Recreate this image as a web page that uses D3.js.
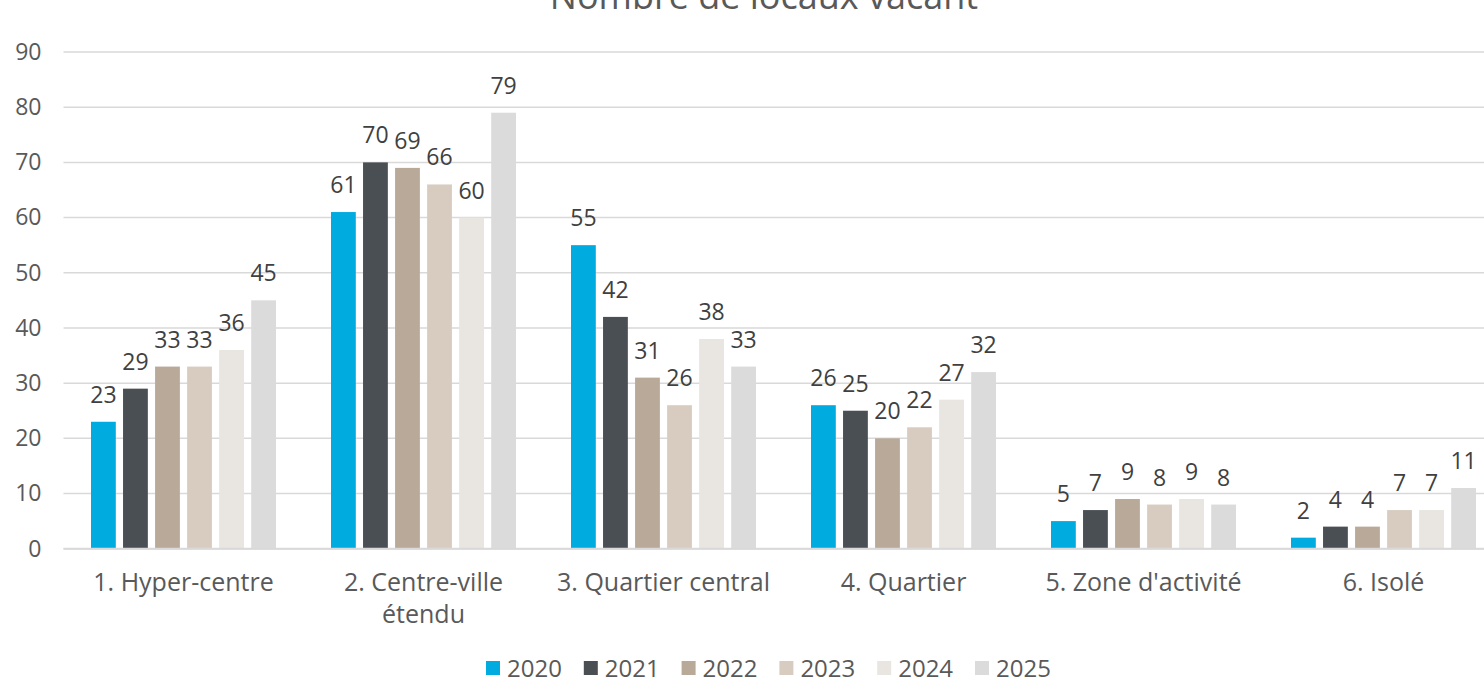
<!DOCTYPE html>
<html>
<head>
<meta charset="utf-8">
<script src="https://cdn.jsdelivr.net/npm/d3@7"></script>
<style>
body{margin:0;background:#fff;}
text{font-family:"Open Sans",sans-serif;}
</style>
</head>
<body>
<div class="chart"></div>
<script>
// donnees
const categories=['1. Hyper-centre','2. Centre-ville étendu','3. Quartier central','4. Quartier',"5. Zone d'activité",'6. Isolé'];
const years=['2020','2021','2022','2023','2024','2025'];
const v2020=[23,61,55,26,5,2];
const v2021=[29,70,42,25,7,4];
const v2022=[33,69,31,20,9,4];
const v2023=[33,66,26,22,8,7];
const v2024=[36,60,38,27,9,7];
const v2025=[45,79,33,32,8,11];
const yTicks=[0,10,20,30,40,50,60,70,80,90];
const colors=['#00abdf','#4a4f54','#b9a999','#d8ccc1','#e9e5e1','#dbdbdb'];

const series=[v2020,v2021,v2022,v2023,v2024,v2025];

const width=1484;
const height=680;
const left=63.5;
const step=240;

const svg=d3.select('.chart')
	.append('svg')
	.attr('width',width)
	.attr('height',height)

const x0=d3.scaleBand()
	.domain(categories)
	.range([left,left+step*categories.length])
	.paddingInner(55/240)
	.paddingOuter(55/480)

const x1=d3.scaleBand()
	.domain(years)
	.range([0,x0.bandwidth()])
	.paddingInner(0.226)

const y=d3.scaleLinear()
	.domain([0,90])
	.range([548.7,52])

// grille
svg.selectAll('.grid')
	.data(yTicks)
	.enter()
	.append('line')
	.attr('x1',left)
	.attr('x2',width)
	.attr('y1',d=>y(d))
	.attr('y2',d=>y(d))
	.attr('stroke','#d9d9d9')
	.attr('stroke-width',1.5)

const yAxis=svg.append('g')
	.attr('transform','translate('+(left-22)+',0)')
	.call(d3.axisLeft(y).tickValues(yTicks).tickSize(0).tickPadding(0))
yAxis.select('.domain').remove()
yAxis.selectAll('text')
	.attr('font-size',23)
	.attr('fill','#595959')
	.attr('font-family','"Open Sans",sans-serif')

// barres
const rows=categories.map((c,i)=>({cat:c,vals:years.map((yr,j)=>({year:yr,value:series[j][i],j:j}))}))

const groups=svg.selectAll('.group')
	.data(rows)
	.enter()
	.append('g')
	.attr('transform',d=>'translate('+x0(d.cat)+',0)')

groups.selectAll('rect')
	.data(d=>d.vals)
	.enter()
	.append('rect')
	.attr('x',d=>x1(d.year))
	.attr('y',d=>y(d.value))
	.attr('width',x1.bandwidth())
	.attr('height',d=>y(0)-y(d.value))
	.attr('fill',d=>colors[d.j])

groups.selectAll('text')
	.data(d=>d.vals)
	.enter()
	.append('text')
	.attr('x',d=>x1(d.year)+x1.bandwidth()/2)
	.attr('y',d=>y(d.value)-19)
	.attr('text-anchor','middle')
	.attr('font-size',23)
	.attr('fill','#404040')
	.text(d=>d.value)

// axe des categories
svg.append('line')
	.attr('x1',left)
	.attr('x2',width)
	.attr('y1',y(0))
	.attr('y2',y(0))
	.attr('stroke','#d9d9d9')
	.attr('stroke-width',2)

const catLabels=svg.selectAll('.cat')
	.data(categories)
	.enter()
	.append('text')
	.attr('x',d=>x0(d)+x0.bandwidth()/2)
	.attr('y',591)
	.attr('text-anchor','middle')
	.attr('font-size',25)
	.attr('fill','#595959')

catLabels.each(function(d){
	const parts=d==='2. Centre-ville étendu'?['2. Centre-ville','étendu']:[d];
	const t=d3.select(this);
	parts.forEach((p,i)=>{
		t.append('tspan')
			.attr('x',x0(d)+x0.bandwidth()/2)
			.attr('dy',i===0?0:32)
			.text(p)
	})
})

// titre
svg.append('text')
	.attr('x',764)
	.attr('y',9)
	.attr('text-anchor','middle')
	.attr('font-size',36)
	.attr('fill','#595959')
	.text('Nombre de locaux vacant')

// legende
const legend=svg.selectAll('.legend')
	.data(years)
	.enter()
	.append('g')
	.attr('transform',(d,i)=>'translate('+(486+i*97.8)+',661)')

legend.append('rect')
	.attr('width',14)
	.attr('height',14)
	.attr('fill',(d,i)=>colors[i])

legend.append('text')
	.attr('x',21)
	.attr('y',15.5)
	.attr('font-size',24)
	.attr('fill','#595959')
	.text(d=>d)
</script>
</body>
</html>
